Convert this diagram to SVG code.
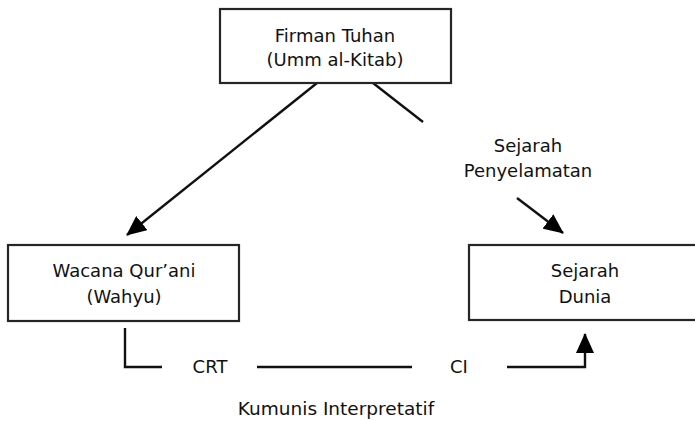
<svg xmlns="http://www.w3.org/2000/svg" width="695" height="421" viewBox="0 0 695 421">
  <style>
    .box { fill: #ffffff; stroke: #262626; stroke-width: 2.2; }
    .lbl { font-family: "DejaVu Sans", "Verdana", sans-serif; font-size: 18px; fill: #111111; text-anchor: middle; }
    .con { fill: none; stroke: #111111; stroke-width: 2.4; }
  </style>
  <defs>
    <marker id="ah" markerUnits="userSpaceOnUse" markerWidth="22" markerHeight="18" refX="19" refY="9" orient="auto">
      <path d="M0,0 L20,9 L0,18 Z" fill="#000000"/>
    </marker>
  </defs>
  <rect x="0" y="0" width="695" height="421" fill="#ffffff"/>

  <g id="connectors">
    <line class="con" x1="317" y1="83" x2="127" y2="235" marker-end="url(#ah)"/>
    <line class="con" x1="373" y1="83" x2="423" y2="122"/>
    <line class="con" x1="517" y1="198" x2="563" y2="233" marker-end="url(#ah)"/>
    <polyline class="con" points="125,328 125,367 162,367"/>
    <line class="con" x1="257" y1="367" x2="412" y2="367"/>
    <polyline class="con" points="507,367 585,367 585,334" marker-end="url(#ah)"/>
  </g>

  <g id="firman">
    <rect class="box" x="220" y="9" width="231" height="74"/>
    <text class="lbl" x="335" y="42">Firman Tuhan</text>
    <text class="lbl" x="335" y="66">(Umm al-Kitab)</text>
  </g>

  <g id="wacana">
    <rect class="box" x="8" y="245" width="231" height="76"/>
    <text class="lbl" x="124" y="277">Wacana Qur’ani</text>
    <text class="lbl" x="124" y="303">(Wahyu)</text>
  </g>

  <g id="sejarah-dunia">
    <rect class="box" x="469" y="245" width="240" height="75"/>
    <text class="lbl" x="585" y="277">Sejarah</text>
    <text class="lbl" x="585" y="303">Dunia</text>
  </g>

  <g id="sejarah-penyelamatan">
    <text class="lbl" x="528" y="152">Sejarah</text>
    <text class="lbl" x="528" y="177">Penyelamatan</text>
  </g>

  <g id="crt">
    <text class="lbl" x="210" y="373">CRT</text>
  </g>
  <g id="ci">
    <text class="lbl" x="459" y="373">CI</text>
  </g>
  <g id="kumunis">
    <text class="lbl" x="336" y="415" style="font-size:18.5px">Kumunis Interpretatif</text>
  </g>
</svg>
